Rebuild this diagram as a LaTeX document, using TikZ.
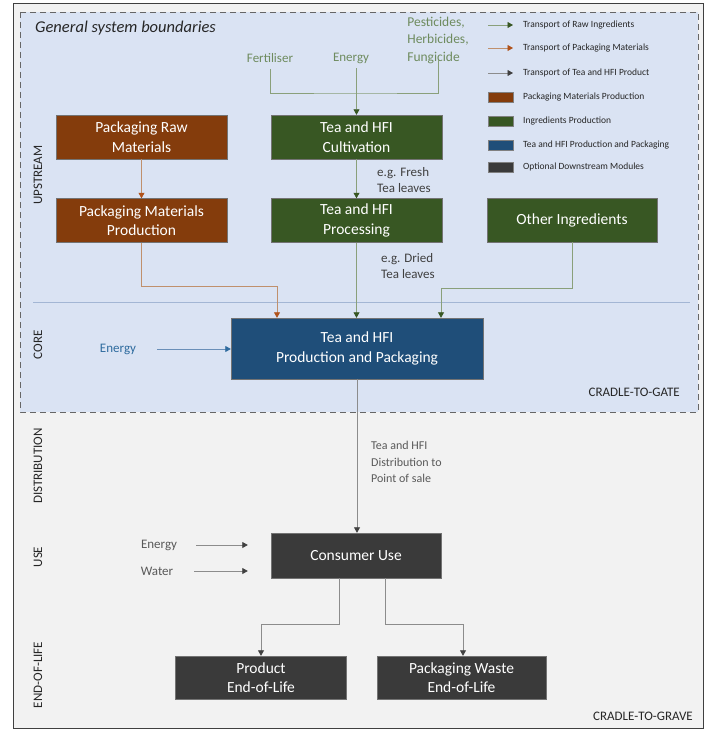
\documentclass[tikz,border=0pt]{standalone}
\usepackage{fontspec}
\setmainfont{Carlito}
\usepackage{xcolor}
\usetikzlibrary{arrows.meta}

\definecolor{pkgbrown}{HTML}{843C0C}
\definecolor{ingrgreen}{HTML}{385723}
\definecolor{coreblue}{HTML}{1F4E79}
\definecolor{downgray}{HTML}{3A3A3A}
\definecolor{gatefill}{HTML}{DAE3F3}
\definecolor{gravefill}{HTML}{F2F2F2}
\definecolor{inputgreen}{HTML}{6E8B5E}
\definecolor{inputblue}{HTML}{2E6B9E}
\definecolor{textgray}{HTML}{595959}
\definecolor{linegreen}{HTML}{8AA07A}
\definecolor{linebrown}{HTML}{C0906C}
\definecolor{headbrown}{HTML}{B0521A}
\definecolor{lineblue}{HTML}{6A8FB8}
\definecolor{sepblue}{HTML}{A3B6D4}

\tikzset{
  box/.style={draw=black!55,text=white,align=center,inner sep=0pt,
    minimum width=171pt,minimum height=44pt,font=\fontsize{15.5}{19.5}\selectfont},
  lbl/.style={inner sep=1pt,align=left},
  side/.style={rotate=90,text=black!85,font=\fontsize{13}{15}\selectfont},
  legend/.style={anchor=west,inner sep=0pt,text=black!85,font=\fontsize{9.5}{11}\selectfont},
  greenline/.style={draw=linegreen,line width=0.8pt},
  greenflow/.style={greenline,-{Triangle[width=6pt,length=5.5pt,color=ingrgreen]}},
  brownflow/.style={draw=linebrown,line width=0.8pt,-{Triangle[width=6pt,length=5.5pt,color=headbrown]}},
  grayflow/.style={draw=black!45,line width=0.8pt,-{Triangle[width=6pt,length=5.5pt,color=black!75]}},
  blueflow/.style={draw=lineblue,line width=0.8pt,-{Triangle[width=6pt,length=5.5pt,color=inputblue]}}
}

\begin{document}
\begin{tikzpicture}[x=1pt,y=-1pt,font=\fontsize{13}{16}\selectfont]
  \useasboundingbox (0,0) rectangle (707,730);
  % system boundaries
  \filldraw[fill=gravefill,draw=black!75,line width=0.9pt] (13,3) rectangle (703,728);
  \filldraw[fill=gatefill,draw=black!60,dash pattern=on 6pt off 4pt,line width=0.9pt] (20,12) rectangle (698,412);
  \draw[draw=sepblue,line width=0.7pt] (33,302) -- (690,302);
  \node[anchor=west,inner sep=0pt,text=black!85,font=\fontsize{16.5}{19}\selectfont\itshape] (title) at (35,28) {General system boundaries};
  \node[anchor=east,inner sep=0pt,text=black!85] (gate) at (680,392) {CRADLE-TO-GATE};
  \node[anchor=east,inner sep=0pt,text=black!85] (grave) at (693,716) {CRADLE-TO-GRAVE};

  % stages
  \node[side] (upstream) at (38,175) {UPSTREAM};
  \node[side] (corelbl) at (38,345) {CORE};
  \node[side] (distlbl) at (38,466) {DISTRIBUTION};
  \node[side] (uselbl) at (38,557) {USE};
  \node[side] (eollbl) at (38,675) {END-OF-LIFE};

  % modules
  \node[box,fill=pkgbrown] (pkgraw) at (141.5,137) {Packaging Raw\\Materials};
  \node[box,fill=pkgbrown] (pkgprod) at (141.5,220.5) {Packaging Materials\\Production};
  \node[box,fill=ingrgreen] (cult) at (356.5,137) {Tea and HFI\\Cultivation};
  \node[box,fill=ingrgreen] (proc) at (356.5,220.5) {Tea and HFI\\Processing};
  \node[box,fill=ingrgreen,minimum width=170pt] (other) at (572,220) {Other Ingredients};
  \node[box,fill=coreblue,minimum width=252pt,minimum height=61pt] (core) at (357,348.5) {Tea and HFI\\Production and Packaging};
  \node[box,fill=downgray,minimum width=170pt,minimum height=45pt] (use) at (356,555.5) {Consumer Use};
  \node[box,fill=downgray,minimum height=43pt] (prodeol) at (261,677.5) {Product\\End-of-Life};
  \node[box,fill=downgray,minimum width=169pt,minimum height=43pt] (pkgeol) at (461.5,677.5) {Packaging Waste\\End-of-Life};

  % inputs
  \node[lbl,text=inputgreen] (fert) at (270,58) {Fertiliser};
  \node[lbl,text=inputgreen] (energyup) at (351,58) {Energy};
  \node[lbl,text=inputgreen,font=\fontsize{13.5}{17.5}\selectfont] (pest) at (438,40) {Pesticides,\\Herbicides,\\Fungicide};
  \node[lbl,text=inputblue] (energycore) at (118,349) {Energy};
  \node[lbl,text=textgray] (energyuse) at (159,545) {Energy};
  \node[lbl,text=textgray] (water) at (157,571) {Water};
  \node[lbl,text=black!75,anchor=west,font=\fontsize{13}{15.5}\selectfont] (fresh) at (376,180) {e.g. Fresh\\Tea leaves};
  \node[lbl,text=black!75,anchor=west,font=\fontsize{13}{15.5}\selectfont] (dried) at (380,266) {e.g. Dried\\Tea leaves};
  \node[lbl,text=textgray,anchor=north west,font=\fontsize{12}{16.5}\selectfont] (distr) at (370,440) {Tea and HFI\\Distribution to\\Point of sale};

  % flows
  \draw[greenline,shorten <=5pt] (fert.south) |- (cult.north |- 0,93) -| ([yshift=5pt]pest.south);
  \draw[greenflow,shorten <=4pt] (energyup.south -| cult.north) -- (cult.north);
  \draw[greenflow] (cult) -- (proc);
  \draw[greenflow] (proc.south) -- (proc.south |- core.north);
  \draw[greenflow] (other.south) -- ++(0,46) -| ([xshift=84pt]core.north);
  \draw[brownflow] (pkgraw) -- (pkgprod);
  \draw[brownflow] (pkgprod.south) -- ++(0,44) -| ([xshift=-80pt]core.north);
  \draw[blueflow] ([xshift=20pt]energycore.east) -- (energycore -| core.west);
  \draw[grayflow] (core.south) -- (core.south |- use.north);
  \draw[grayflow] ([xshift=18pt]energyuse.east) -- ([xshift=-23pt]energyuse -| use.west);
  \draw[grayflow] ([xshift=20pt]water.east) -- ([xshift=-23pt]water -| use.west);
  \draw[grayflow] ([xshift=-17pt]use.south) -- ++(0,46) -| (prodeol.north);
  \draw[grayflow] ([xshift=29pt]use.south) -- ++(0,46) -| ([xshift=1.5pt]pkgeol.north);

  % legend
  \foreach \y/\s/\t in {25/greenflow/Transport of Raw Ingredients,
      48/brownflow/Transport of Packaging Materials,
      73/grayflow/Transport of Tea and HFI Product}{
    \node[legend] (leg\y) at (523,\y) {\t};
    \draw[\s] (488,\y) -- ([xshift=-10pt]leg\y.west);
  }
  \foreach \y/\c/\t in {97/pkgbrown/Packaging Materials Production,
      121/ingrgreen/Ingredients Production,
      145/coreblue/Tea and HFI Production and Packaging,
      167/downgray/Optional Downstream Modules}{
    \filldraw[fill=\c,draw=black!50] (488,\y-5) rectangle (513,\y+5);
    \node[legend] (leg\y) at (523,\y) {\t};
  }
\end{tikzpicture}
\end{document}
